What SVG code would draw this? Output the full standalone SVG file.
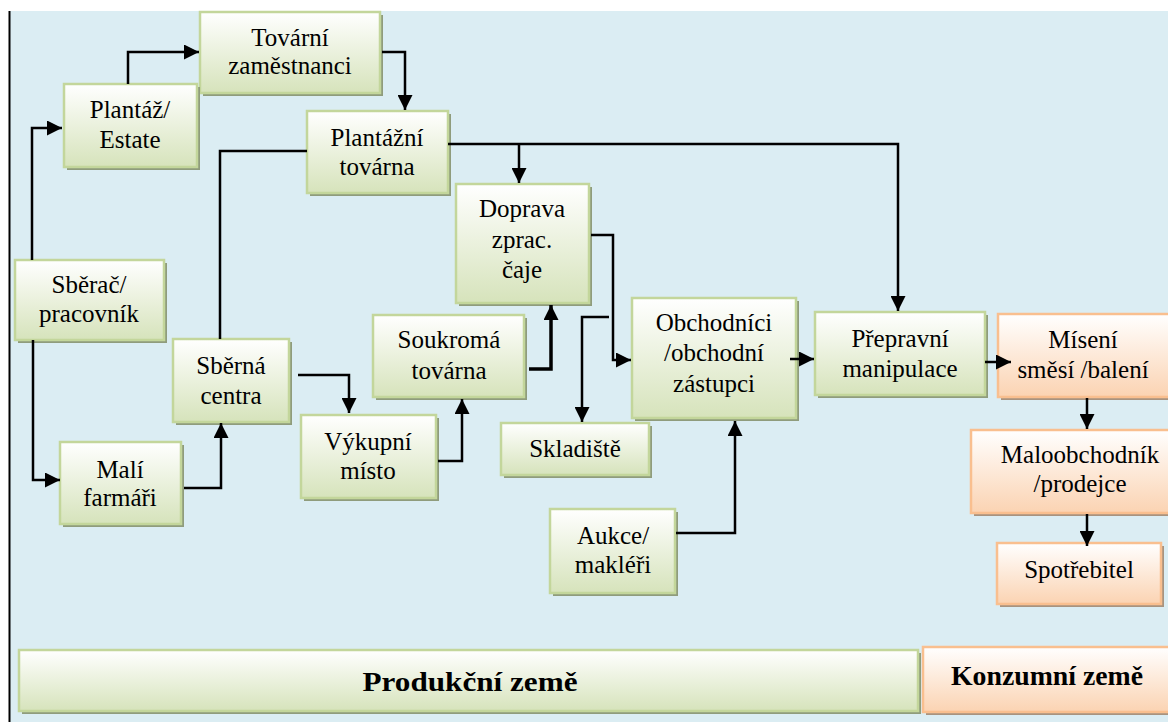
<svg xmlns="http://www.w3.org/2000/svg" width="1168" height="722" viewBox="0 0 1168 722">
<defs>
<linearGradient id="gG" x1="0" y1="0" x2="0" y2="1"><stop offset="0" stop-color="#ffffff"/><stop offset="1" stop-color="#d6e3bb"/></linearGradient>
<linearGradient id="gO" x1="0" y1="0" x2="0" y2="1"><stop offset="0" stop-color="#ffffff"/><stop offset="1" stop-color="#fbd3b2"/></linearGradient>
<marker id="ah" viewBox="0 0 10 10" refX="10" refY="5" markerWidth="15" markerHeight="15" markerUnits="userSpaceOnUse" orient="auto"><path d="M0,0 L10,5 L0,10 z" fill="#000"/></marker>
<style>
.g .b{fill:url(#gG);stroke:#c3d69b;stroke-width:2.5}
.g .s{fill:#8f9c7c}
.o .b{fill:url(#gO);stroke:#f9bf8f;stroke-width:2.5}
.o .s{fill:#a8937f}
text{font-family:"Liberation Serif","Times New Roman",serif;font-size:25px;fill:#000;text-anchor:middle}
text.bold{font-weight:bold;font-size:27px}
.c path{fill:none;stroke:#000;stroke-width:2.5}
.c path.a{marker-end:url(#ah)}
</style>
</defs>
<rect x="0" y="0" width="1168" height="722" fill="#ffffff"/>
<rect x="9" y="11" width="1159" height="711" fill="#dbedf3"/>
<line x1="9.5" y1="11" x2="9.5" y2="722" stroke="#000" stroke-width="2"/>

<g id="tovarni" class="g"><rect class="s" x="203" y="15" width="180" height="81"/><rect class="b" x="200" y="12" width="180" height="81"/><text x="290" y="46">Tovární</text><text x="290" y="74">zaměstnanci</text></g>
<g id="plantaz" class="g"><rect class="s" x="67" y="87" width="133" height="83"/><rect class="b" x="64" y="84" width="133" height="83"/><text x="130" y="118">Plantáž/</text><text x="130" y="148">Estate</text></g>
<g id="plantazni" class="g"><rect class="s" x="310" y="114" width="141" height="82"/><rect class="b" x="307" y="111" width="141" height="82"/><text x="377" y="146">Plantážní</text><text x="377" y="175">továrna</text></g>
<g id="doprava" class="g"><rect class="s" x="459" y="187" width="133" height="119"/><rect class="b" x="456" y="184" width="133" height="119"/><text x="522" y="217">Doprava</text><text x="522" y="248">zprac.</text><text x="522" y="278">čaje</text></g>
<g id="sberac" class="g"><rect class="s" x="18" y="263" width="149" height="80"/><rect class="b" x="15" y="260" width="149" height="80"/><text x="89" y="293">Sběrač/</text><text x="89" y="322">pracovník</text></g>
<g id="sberna" class="g"><rect class="s" x="176" y="342" width="116" height="83"/><rect class="b" x="173" y="339" width="116" height="83"/><text x="231" y="374">Sběrná</text><text x="231" y="404">centra</text></g>
<g id="soukroma" class="g"><rect class="s" x="376" y="318" width="151" height="82"/><rect class="b" x="373" y="315" width="151" height="82"/><text x="449" y="348">Soukromá</text><text x="449" y="379">továrna</text></g>
<g id="obchodnici" class="g"><rect class="s" x="635" y="301" width="164" height="120"/><rect class="b" x="632" y="298" width="164" height="120"/><text x="714" y="331">Obchodníci</text><text x="714" y="361">/obchodní</text><text x="714" y="392">zástupci</text></g>
<g id="prepravni" class="g"><rect class="s" x="818" y="315" width="170" height="83"/><rect class="b" x="815" y="312" width="170" height="83"/><text x="900" y="347">Přepravní</text><text x="900" y="377">manipulace</text></g>
<g id="miseni" class="o"><rect class="s" x="1001" y="317" width="175" height="83"/><rect class="b" x="998" y="314" width="175" height="83"/><text x="1083" y="348">Mísení</text><text x="1083" y="378">směsí /balení</text></g>
<g id="maloobchodnik" class="o"><rect class="s" x="974" y="433" width="200" height="83"/><rect class="b" x="971" y="430" width="200" height="83"/><text x="1080" y="463">Maloobchodník</text><text x="1080" y="492">/prodejce</text></g>
<g id="spotrebitel" class="o"><rect class="s" x="1000" y="546" width="164" height="61"/><rect class="b" x="997" y="543" width="164" height="61"/><text x="1079" y="578">Spotřebitel</text></g>
<g id="vykupni" class="g"><rect class="s" x="304" y="418" width="135" height="83"/><rect class="b" x="301" y="415" width="135" height="83"/><text x="368" y="450">Výkupní</text><text x="368" y="479">místo</text></g>
<g id="skladiste" class="g"><rect class="s" x="504" y="426" width="148" height="52"/><rect class="b" x="501" y="423" width="148" height="52"/><text x="575" y="457">Skladiště</text></g>
<g id="mali" class="g"><rect class="s" x="63" y="445" width="121" height="82"/><rect class="b" x="60" y="442" width="121" height="82"/><text x="120" y="478">Malí</text><text x="120" y="506">farmáři</text></g>
<g id="aukce" class="g"><rect class="s" x="553" y="512" width="125" height="84"/><rect class="b" x="550" y="509" width="125" height="84"/><text x="613" y="544">Aukce/</text><text x="613" y="573">makléři</text></g>
<g id="produkcni" class="g"><rect class="s" x="22" y="653" width="899" height="61"/><rect class="b" x="19" y="650" width="899" height="61"/><text class="bold" x="470" y="691" textLength="215" lengthAdjust="spacingAndGlyphs">Produkční země</text></g>
<g id="konzumni" class="o"><rect class="s" x="926" y="650" width="250" height="65"/><rect class="b" x="923" y="647" width="250" height="65"/><text class="bold" x="1047" y="685" textLength="192" lengthAdjust="spacingAndGlyphs">Konzumní země</text></g>

<g id="connectors" class="c">
<path class="a" d="M32,260 V128 H62"/>
<path class="a" d="M128,84 V52 H199"/>
<path class="a" d="M382,52 H405 V110"/>
<path d="M307,151 H220 V339"/>
<path class="a" d="M33,340 V480 H60"/>
<path class="a" d="M184,488 H221 V423"/>
<path class="a" d="M298,375 H349 V413"/>
<path class="a" d="M438,461 H462 V399"/>
<path class="a" d="M529,369 H551 V305" style="stroke-width:3.5"/>
<path class="a" d="M448,144 H898 V311"/>
<path class="a" d="M519,144 V183"/>
<path class="a" d="M591,235 H613 V360 H631"/>
<path class="a" d="M609,317 H582 V422"/>
<path class="a" d="M790,359 H814"/>
<path class="a" d="M985,362 H1011"/>
<path class="a" d="M1087,398 V429"/>
<path class="a" d="M1087,514 V546"/>
<path class="a" d="M676,533 H735 V421"/>
</g>
</svg>
